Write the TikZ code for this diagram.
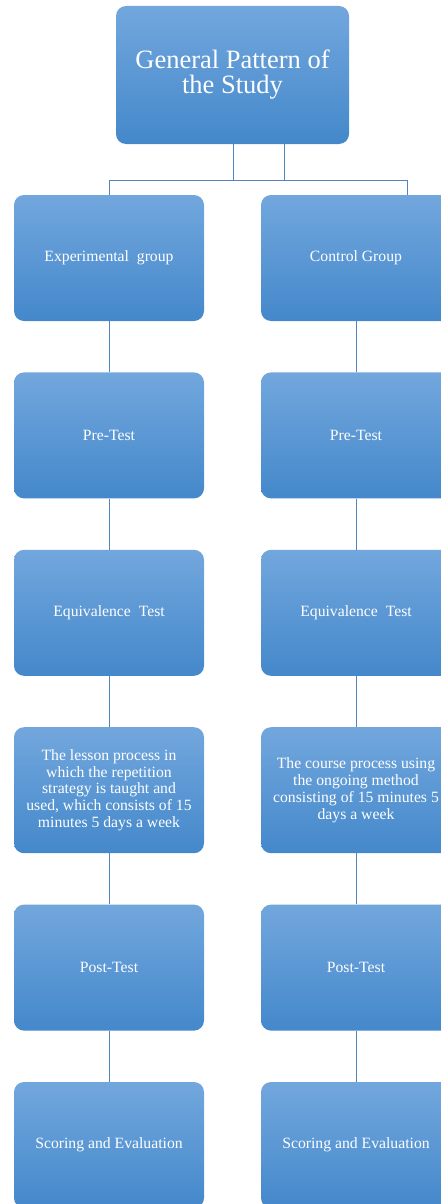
\documentclass[tikz,border=0pt]{standalone}
\usepackage{fontspec}
\setmainfont{Liberation Serif}
\usepackage{tikz}
\usetikzlibrary{arrows.meta}
\definecolor{boxtop}{RGB}{114,167,221}
\definecolor{boxbot}{RGB}{68,136,203}
\definecolor{linkcol}{RGB}{84,132,190}

\begin{document}
\begin{tikzpicture}[x=1pt,y=-1pt,
  stage/.style={rectangle, rounded corners=10pt, top color=boxtop, bottom color=boxbot,
    draw=none, minimum width=190pt, minimum height=126pt, text=white, align=center,
    font=\fontsize{15.7}{16.7}\selectfont},
  title/.style={stage, minimum width=233pt, minimum height=138pt,
    font=\fontsize{26.5}{25}\selectfont},
  link/.style={draw=linkcol, line width=0.8pt}]

\clip (0,0) rectangle (441,1204);

\node[title] (top) at (232.5,75) {General Pattern of\\the Study};

% experimental side
\node[stage] (exp) at (109,258) {Experimental\ \ group};
\node[stage] (epre) at (109,435.4) {Pre-Test};
\node[stage] (eeq) at (109,612.8) {Equivalence\ \ Test};
\node[stage] (elesson) at (109,790.2) {The lesson process in\\which the repetition\\strategy is taught and\\used, which consists of 15\\minutes 5 days a week};
\node[stage] (epost) at (109,967.6) {Post-Test};
\node[stage] (escore) at (109,1145) {Scoring and Evaluation};

% control side
\node[stage] (ctl) at (356,258) {Control Group};
\node[stage] (cpre) at (356,435.4) {Pre-Test};
\node[stage] (ceq) at (356,612.8) {Equivalence\ \ Test};
\node[stage] (ccourse) at (356,790.2) {The course process using\\the ongoing method\\consisting of 15 minutes 5\\days a week};
\node[stage] (cpost) at (356,967.6) {Post-Test};
\node[stage] (cscore) at (356,1145) {Scoring and Evaluation};

\coordinate (jl) at (233,180);
\coordinate (jr) at (284,180);
\coordinate (cin) at (407,195);

\draw[link] (top.south -| jl) -- (jl);
\draw[link] (top.south -| jr) -- (jr);
\draw[link] (exp.north) -- (exp.north |- jl) -- (cin |- jl) -- (cin);

\draw[link] (exp) -- (epre);
\draw[link] (epre) -- (eeq);
\draw[link] (eeq) -- (elesson);
\draw[link] (elesson) -- (epost);
\draw[link] (epost) -- (escore);

\draw[link] (ctl) -- (cpre);
\draw[link] (cpre) -- (ceq);
\draw[link] (ceq) -- (ccourse);
\draw[link] (ccourse) -- (cpost);
\draw[link] (cpost) -- (cscore);

\end{tikzpicture}
\end{document}
